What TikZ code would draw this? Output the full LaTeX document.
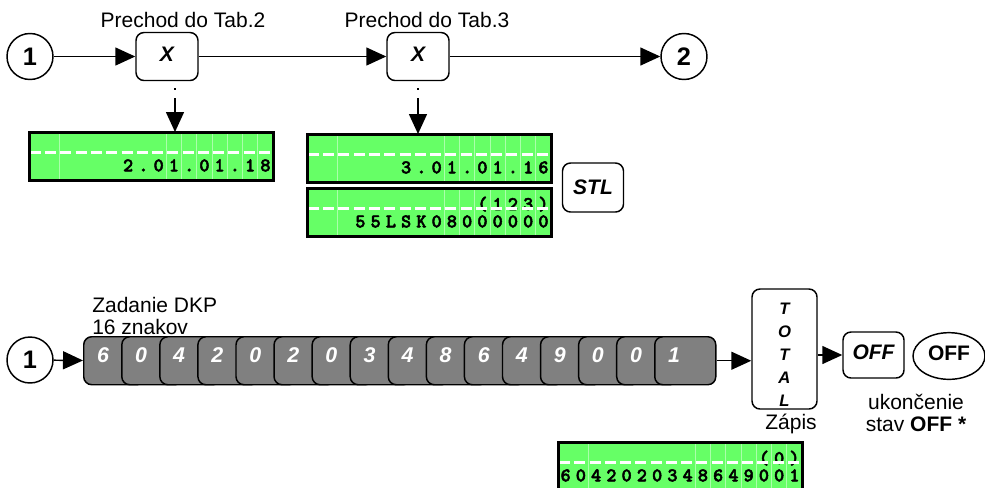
\documentclass[tikz,border=0pt]{standalone}
\usepackage{fontspec}
\setmainfont{Liberation Sans}
\newfontfamily\lcdfont[Extension=.otf,FakeBold=2.5]{lmmonolt10-bold}
\usetikzlibrary{shapes.geometric,arrows.meta,positioning}

\definecolor{lcdgreen}{RGB}{102,255,102}
\definecolor{keygray}{RGB}{128,128,128}

\tikzset{
  flow/.style={line width=1.1pt,-{Triangle[length=15pt,width=13.5pt]}},
  conn/.style={circle,draw,line width=1.1pt,minimum size=34.5pt,inner sep=0pt,
    font=\fontsize{19}{19}\selectfont\bfseries},
  keycap/.style={draw,line width=1.1pt,rounded corners=6pt,fill=white,
    minimum width=46.5pt,minimum height=36pt,inner sep=0pt,
    font=\fontsize{15.75}{16}\selectfont\bfseries\itshape},
  keybox/.style={draw,line width=1.1pt,rounded corners=6pt,fill=keygray,
    minimum width=45.75pt,minimum height=36pt,inner sep=0pt,anchor=north west},
  keydigit/.style={text=white,inner sep=0pt,font=\fontsize{16}{16}\selectfont\bfseries\itshape},
  note/.style={inner sep=0pt,font=\fontsize{15.75}{16.5}\selectfont},
  lcdbox/.style={fill=lcdgreen,minimum width=183pt,minimum height=36pt,
    inner sep=0pt,outer sep=0pt,anchor=north west},
  lcdgrid/.style={draw=lcdgreen!55!white,line width=0.6pt},
  lcdbar/.style={draw=white,line width=2.25pt,dash pattern=on 8.25pt off 3.19pt,dash phase=10.7pt},
  lcdchar/.style={inner sep=0pt,anchor=base,font=\lcdfont\fontsize{14.5}{14.5}\selectfont},
  lcdedge/.style={draw,line width=2.25pt}
}

\newcommand\lcdlp{(}
\newcommand\lcdrp{)}
% display: name, top left corner, first cell + chars of upper line, first cell + chars of lower line
\newcommand\lcd[6]{%
  \node[lcdbox] (#1) at #2 {};
  \foreach \k in {2,9,10,...,15}
    \draw[lcdgrid] ([xshift=\k*11.44pt]#1.north west) -- ([xshift=\k*11.44pt]#1.south west);
  \foreach \ch [count=\i from #3] in {#4}
    \node[lcdchar] (#1a\i) at ([xshift={(\i-0.5)*11.44pt},yshift=-16.5pt]#1.north west) {\ch};
  \foreach \ch [count=\i from #5] in {#6}
    \node[lcdchar] (#1b\i) at ([xshift={(\i-0.5)*11.44pt},yshift=-29.5pt]#1.north west) {\ch};
  \draw[lcdbar] ([yshift=-15pt]#1.north west) -- ([yshift=-15pt]#1.north east);
  \draw[lcdedge] (#1.north west) rectangle (#1.south east);
}

\begin{document}
\begin{tikzpicture}[x=0.75pt,y=-0.75pt]
  \useasboundingbox (0,0) rectangle (985,487);

  \node[conn] (c1) at (30,56.5) {1};
  \node[keycap] (x1) at (167,56.5) {\raisebox{4pt}{X}};
  \node[keycap] (x2) at (418,56.5) {\raisebox{4pt}{X}};
  \node[conn] (c2) at (684,56.5) {2};
  \node[note] (t1) at (183,20) {Prechod do Tab.2};
  \node[note] (t2) at (427,20) {Prechod do Tab.3};

  \draw[flow] (c1) -- (x1);
  \draw[flow] (x1) -- (x2);
  \draw[flow] (x2) -- (c2);

  \lcd{d1}{(29,132)}{1}{}{7}{2,.,0,1,.,0,1,.,1,8}
  \lcd{d2}{(307,134)}{1}{}{7}{3,.,0,1,.,0,1,.,1,6}
  \lcd{d3}{(307,188)}{12}{\lcdlp,1,2,3,\lcdrp}{4}{5,5,L,S,K,0,8,0,0,0,0,0,0}
  \node[keycap,minimum width=45.75pt,minimum height=36.75pt] (stl) at (593,187.5) {STL};

  \draw[flow,dash pattern={on 0pt off 5.25pt on 1.5pt off 6pt on 60pt}]
    ([xshift=6pt]x1.south) -- ([xshift=6pt]x1.south |- d1.north);
  \draw[flow,dash pattern={on 0pt off 5.25pt on 1.5pt off 6pt on 60pt}]
    (x2.south) -- (x2.south |- d2.north);

  \node[conn] (c3) at (30,360) {1};
  \node[note,anchor=west,align=left] (zad) at (92,316) {Zadanie DKP\\16 znakov};
  \foreach \d [count=\i] in {6,0,4,2,0,2,0,3,4,8,6,4,9,0,0,1} {
    \node[keybox] (k\i) at ({83+38.07*(\i-1)},336) {};
    \node[keydigit] (kd\i) at ({103+38.07*(\i-1)},355) {\d};
  }
  \draw[flow] (c3) -- (k1);

  \node[keycap,minimum width=48.75pt,minimum height=90pt] (tot) at (784.5,349) {};
  \node[align=center,inner sep=0pt,font=\fontsize{12.5}{17.25}\selectfont\bfseries\itshape]
    (totl) at (784.5,354.5) {T\\O\\T\\A\\L};
  \node[note] (zap) at (791,424) {Zápis};
  \node[keycap,minimum width=45.75pt,minimum height=34.5pt] (off) at (873.5,355) {\raisebox{4pt}{OFF}};
  \node[ellipse,draw,line width=1.1pt,minimum width=54pt,minimum height=35pt,inner sep=0pt,
    font=\fontsize{15.75}{16}\selectfont\bfseries] (offk) at (949,356) {\raisebox{4pt}{OFF}};
  \node[note,align=center] (end) at (916,413) {ukončenie\\stav \textbf{OFF *}};

  \draw[flow] (k16.east) -- (k16.east -| tot.west);
  \draw[flow] (tot.east |- off.west) -- (off.west);

  \lcd{d4}{(558,442)}{14}{\lcdlp,0,\lcdrp}{1}{6,0,4,2,0,2,0,3,4,8,6,4,9,0,0,1}
\end{tikzpicture}
\end{document}
